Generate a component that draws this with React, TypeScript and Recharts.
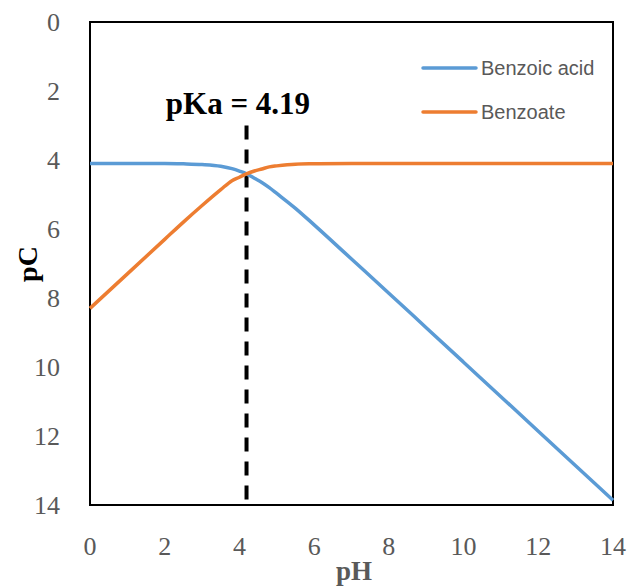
import React from 'react';
import { LineChart, Line, XAxis, YAxis, ReferenceLine, ReferenceArea, ReferenceDot } from 'recharts';

const phValues = [0, 1, 2, 2.5, 3, 3.5, 3.8, 4, 4.19, 4.4, 4.6, 4.8, 5, 5.5, 6, 7, 8, 9, 10, 11, 12, 13, 14];
const benzoicAcid = [4.1, 4.1, 4.1, 4.11, 4.13, 4.18, 4.25, 4.32, 4.4, 4.53, 4.65, 4.8, 4.97, 5.4, 5.88, 6.87, 7.86, 8.86, 9.86, 10.86, 11.86, 12.86, 13.86];
const benzoate = [8.3, 7.3, 6.3, 5.8, 5.32, 4.86, 4.6, 4.5, 4.4, 4.32, 4.26, 4.2, 4.17, 4.12, 4.11, 4.1, 4.1, 4.1, 4.1, 4.1, 4.1, 4.1, 4.1];
const xTicks = [0, 2, 4, 6, 8, 10, 12, 14];
const yTicks = [0, 2, 4, 6, 8, 10, 12, 14];
const seriesNames = ['Benzoic acid', 'Benzoate'];
const pKa = 4.19;

const data = phValues.map((ph, i) => ({ ph, acid: benzoicAcid[i], base: benzoate[i] }));

const BLUE = '#5B9BD5';
const ORANGE = '#ED7D31';
const SERIF = '"Liberation Serif", "Times New Roman", serif';

const XTick = (props: any) => {
  const { x, y, payload } = props;
  return (
    <text x={x} y={y + 33} textAnchor="middle" dominantBaseline="central" style={{ fontFamily: SERIF, fontSize: 26, fill: '#595959' }}>
      {payload.value}
    </text>
  );
};

const YTick = (props: any) => {
  const { x, y, payload } = props;
  return (
    <text x={x - 22} y={y} textAnchor="end" dominantBaseline="central" style={{ fontFamily: SERIF, fontSize: 26, fill: '#595959' }}>
      {payload.value}
    </text>
  );
};

const XLabel = () => (
  <text x={354} y={571} textAnchor="middle" dominantBaseline="central" style={{ fontFamily: SERIF, fontWeight: 'bold', fontSize: 27, fill: '#595959' }}>
    pH
  </text>
);

const YLabel = () => (
  <text x={27} y={264} textAnchor="middle" dominantBaseline="central" transform="rotate(-90 27 264)" style={{ fontFamily: SERIF, fontWeight: 'bold', fontSize: 28, fill: '#000' }}>
    pC
  </text>
);

const LegendOverlay = () => (
  <svg width={200} height={90} style={{ position: 'absolute', left: 421, top: 58, overflow: 'visible' }}>
    {[BLUE, ORANGE].map((c, i) => (
      <g key={i}>
        <line x1={2} y1={10 + i * 44} x2={55} y2={10 + i * 44} stroke={c} strokeWidth={3.5} strokeLinecap="round" />
        <text x={60} y={10 + i * 44} dominantBaseline="central" style={{ fontFamily: '"Liberation Sans", Arial, sans-serif', fontSize: 20, fill: '#595959' }}>
          {seriesNames[i]}
        </text>
      </g>
    ))}
  </svg>
);

export default function App() {
  return (
    <div style={{ position: 'absolute', left: 0, top: 0, width: 629, height: 586, background: '#fff' }}>
      <LineChart width={629} height={586} data={data} margin={{ top: 22, right: 16, bottom: 31, left: 30 }}>
        <ReferenceArea x1={0} x2={14} y1={0} y2={14} fill="none" stroke="#000" strokeWidth={2} ifOverflow="visible" />
        <XAxis
          dataKey="ph"
          type="number"
          domain={[0, 14]}
          ticks={xTicks}
          axisLine={false}
          tickLine={false}
          height={50}
          tick={<XTick />}
          label={<XLabel />}
        />
        <YAxis
          type="number"
          domain={[0, 14]}
          ticks={yTicks}
          reversed
          axisLine={false}
          tickLine={false}
          width={60}
          tick={<YTick />}
          label={<YLabel />}
        />
        <ReferenceLine
          segment={[{ x: pKa, y: 3 }, { x: pKa, y: 14 }]}
          stroke="#000"
          strokeWidth={4}
          strokeDasharray="14 10"
        />
        <ReferenceDot
          x={3.96}
          y={2.35}
          r={0}
          fill="none"
          stroke="none"
          label={{ value: 'pKa = ' + pKa, position: 'center', fontFamily: SERIF, fontWeight: 'bold', fontSize: 31, fill: '#000' }}
        />
        <Line type="monotone" dataKey="acid" name={seriesNames[0]} stroke={BLUE} strokeWidth={3.5} dot={false} isAnimationActive={false} />
        <Line type="monotone" dataKey="base" name={seriesNames[1]} stroke={ORANGE} strokeWidth={3.5} dot={false} isAnimationActive={false} />
      </LineChart>
      <LegendOverlay />
    </div>
  );
}
